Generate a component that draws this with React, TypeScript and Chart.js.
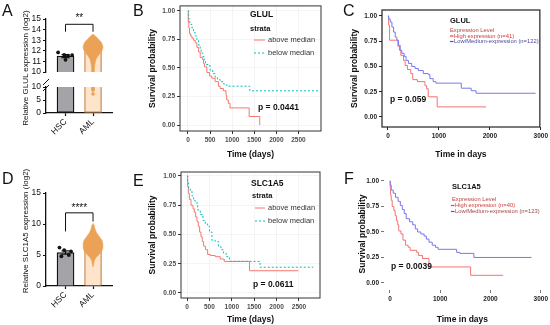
import React, { useEffect, useRef } from 'react';
import { Chart, registerables } from 'chart.js';

Chart.register(...registerables);

const FONT = "'Liberation Sans', Arial, Helvetica, sans-serif";

// ---------------- Panels A / D : bar + dots ----------------
const groups = ['HSC', 'AML'];
const groupPos = [0, 1];

// A: GLUL (broken axis)
const glulMeans = [11.5, 12.0];
const glulSem = [0.15, 0.04];
const glulHscValues = [11.85, 11.62, 11.55, 11.6, 11.15];
const glulHscJitter = [-0.27, -0.05, 0.09, 0.24, 0.0];
const glulAmlLevels = [13.55, 13.45, 13.3, 13.1, 12.9, 12.7, 12.5, 12.3, 12.1, 11.9, 11.7, 11.5, 11.3, 11.1, 10.9, 10.6, 10.3, 10.0];
const glulAmlHalfWidth = [0, 0.06, 0.12, 0.2, 0.27, 0.32, 0.35, 0.36, 0.34, 0.3, 0.24, 0.18, 0.13, 0.1, 0.08, 0.06, 0.05, 0.045];
const glulAmlOutliers = [9.7, 9.2, 8.8, 7.3];
const glulUpperTicks = [10, 11, 12, 13, 14, 15];
const glulLowerTicks = [0, 5, 10];
const glulBreak = 10;
const glulSig = { label: '**', bar: 14.5, legs: [13.8, 13.8], text: 15.1 };

// D: SLC1A5
const slcMeans = [5.4, 6.6];
const slcSem = [0.28, 0.05];
const slcHscValues = [6.2, 5.8, 5.6, 5.0, 4.8];
const slcHscJitter = [-0.22, -0.05, 0.2, 0.12, -0.15];
const slcAmlLevels = [10.1, 9.8, 9.4, 9.0, 8.6, 8.2, 7.8, 7.4, 7.0, 6.5, 6.0, 5.5, 5.1, 4.7, 4.3, 3.9, 3.4, 3.1];
const slcAmlHalfWidth = [0, 0.04, 0.06, 0.09, 0.13, 0.19, 0.26, 0.32, 0.35, 0.36, 0.35, 0.3, 0.22, 0.13, 0.07, 0.04, 0.02, 0];
const slcTicks = [0, 5, 10, 15];
const slcSig = { label: '****', bar: 11.8, legs: [8.8, 10.4], text: 12.6 };

// ---------------- Survival panels ----------------
const probTicks = [0, 0.25, 0.5, 0.75, 1];
const probLabels = ['0.00', '0.25', '0.50', '0.75', '1.00'];
const daysTicksGG = [0, 500, 1000, 1500, 2000, 2500];
const daysLabelsGG = ['0', '500', '1000', '1500', '2000', '2500'];
const daysTicksKM = [0, 1000, 2000, 3000];
const daysLabelsKM = ['0', '1000', '2000', '3000'];

// B: GLUL strata
const bAboveDays = [0, 8, 20, 35, 60, 90, 130, 165, 202, 240, 277, 337, 352, 374, 427, 487, 539, 614, 689, 726, 801, 861, 876, 913, 951, 1385, 1624];
const bAboveSurv = [1.0, 0.9, 0.85, 0.8, 0.78, 0.76, 0.74, 0.72, 0.68, 0.64, 0.59, 0.57, 0.54, 0.51, 0.46, 0.43, 0.41, 0.38, 0.34, 0.32, 0.3, 0.26, 0.22, 0.19, 0.15, 0.075, 0.0];
const bBelowDays = [0, 15, 37, 67, 90, 127, 165, 202, 240, 277, 299, 337, 367, 397, 464, 501, 561, 614, 666, 726, 801, 861, 891, 1400, 2970];
const bBelowSurv = [1.0, 0.93, 0.9, 0.88, 0.85, 0.81, 0.78, 0.74, 0.7, 0.66, 0.63, 0.6, 0.57, 0.53, 0.52, 0.48, 0.45, 0.42, 0.4, 0.38, 0.36, 0.35, 0.34, 0.3, 0.3];

// C: GLUL expression level
const cHighDays = [0, 13, 32, 194, 227, 253, 305, 337, 382, 447, 486, 577, 726, 758, 790, 966, 1925];
const cHighSurv = [1.0, 0.91, 0.76, 0.7, 0.66, 0.61, 0.56, 0.51, 0.47, 0.43, 0.37, 0.35, 0.31, 0.28, 0.2, 0.1, 0.1];
const cLowDays = [0, 13, 45, 78, 110, 143, 175, 207, 240, 272, 318, 356, 402, 467, 531, 596, 693, 790, 823, 888, 940, 1439, 1633, 1730, 2897];
const cLowSurv = [1.0, 0.97, 0.94, 0.89, 0.84, 0.79, 0.76, 0.71, 0.66, 0.63, 0.6, 0.56, 0.53, 0.5, 0.48, 0.46, 0.43, 0.42, 0.38, 0.35, 0.335, 0.285, 0.26, 0.235, 0.235];

// E: SLC1A5 strata
const eAboveDays = [0, 15, 30, 52, 89, 134, 163, 193, 223, 252, 282, 312, 341, 371, 415, 460, 519, 631, 742, 831, 1395, 2485];
const eAboveSurv = [1.0, 0.91, 0.85, 0.8, 0.75, 0.72, 0.69, 0.65, 0.61, 0.57, 0.52, 0.48, 0.44, 0.4, 0.37, 0.33, 0.32, 0.31, 0.29, 0.27, 0.19, 0.19];
const eBelowDays = [0, 15, 37, 74, 111, 148, 185, 237, 297, 356, 408, 460, 504, 556, 631, 705, 757, 816, 875, 950, 1632, 2819];
const eBelowSurv = [1.0, 0.94, 0.89, 0.87, 0.83, 0.79, 0.77, 0.71, 0.67, 0.62, 0.59, 0.57, 0.52, 0.45, 0.44, 0.4, 0.37, 0.34, 0.31, 0.27, 0.22, 0.22];

// F: SLC1A5 expression level
const fHighDays = [0, 5, 13, 26, 45, 78, 104, 129, 155, 175, 220, 259, 311, 362, 401, 531, 570, 647, 777, 1605, 2252];
const fHighSurv = [1.0, 0.93, 0.86, 0.81, 0.75, 0.71, 0.66, 0.61, 0.57, 0.51, 0.48, 0.42, 0.37, 0.35, 0.32, 0.3, 0.27, 0.24, 0.157, 0.075, 0.075];
const fLowDays = [0, 6, 26, 65, 110, 162, 207, 246, 285, 324, 388, 453, 505, 550, 615, 680, 725, 777, 841, 906, 958, 1327, 1392, 1670, 2816];
const fLowSurv = [1.0, 0.96, 0.91, 0.88, 0.84, 0.8, 0.76, 0.72, 0.68, 0.63, 0.6, 0.57, 0.53, 0.5, 0.48, 0.46, 0.43, 0.4, 0.37, 0.35, 0.33, 0.3, 0.29, 0.25, 0.25];

// ---------------- styles ----------------
const HSC_FILL = '#a4a4a8';
const HSC_EDGE = '#111111';
const AML_FILL = '#fde4cb';
const AML_EDGE = '#c98c55';
const AML_DOT = '#eba257';
const GG_RED = '#F8766D';
const GG_CYAN = '#00BFC4';
const KM_RED = '#f47272';
const KM_BLUE = '#7878f0';

type Box = { left: number; top: number; width: number; height: number };
type Area = { left: number; top: number; right: number; bottom: number };

function fit(box: Box, area: Area) {
  return {
    top: area.top - box.top,
    right: box.left + box.width - area.right,
    bottom: box.top + box.height - area.bottom,
    yWidth: area.left - box.left,
  };
}

function ChartCanvas({ box, config }: { box: Box; config: () => any }) {
  const ref = useRef<HTMLCanvasElement | null>(null);
  useEffect(() => {
    if (!ref.current) return;
    const chart = new Chart(ref.current, config());
    return () => chart.destroy();
  }, []);
  return (
    <canvas
      ref={ref}
      width={box.width}
      height={box.height}
      style={{ position: 'absolute', left: box.left, top: box.top, width: box.width, height: box.height }}
    />
  );
}

type BarOpts = {
  box: Box;
  area: Area;
  yMin: number;
  yMax: number;
  yTicks: number[];
  base: number;
  tops: number[];
  means: number[];
  sems: number[];
  errorBars: boolean;
  skip: any;
  hscValues?: number[];
  hscJitter?: number[];
  violin?: { levels: number[]; half: number[] };
  outliers?: number[];
  showX: boolean;
  sig?: { label: string; bar: number; legs: number[]; text: number };
  breakMarks?: boolean;
};

function barConfig(o: BarOpts) {
  const f = fit(o.box, o.area);
  const tickFont = { family: FONT, size: 8.5 };
  const datasets: any[] = [];
  if (o.hscValues && o.hscJitter) {
    const jit = o.hscJitter;
    datasets.push({
      type: 'scatter',
      data: o.hscValues.map((v, i) => ({ x: groupPos[0] + jit[i], y: v })),
      backgroundColor: '#111',
      borderWidth: 0,
      pointRadius: 1.9,
      order: 1,
    });
  }
  if (o.outliers) {
    datasets.push({
      type: 'scatter',
      data: o.outliers.map((v) => ({ x: groupPos[1], y: v })),
      backgroundColor: AML_DOT,
      borderWidth: 0,
      pointRadius: 1.8,
      order: 1,
    });
  }
  if (o.violin) {
    const { levels, half } = o.violin;
    const right = levels.map((l, i) => ({ x: groupPos[1] + half[i], y: l }));
    const left = levels.map((l, i) => ({ x: groupPos[1] - half[i], y: l })).reverse();
    datasets.push({
      type: 'line',
      data: [...right, ...left],
      fill: 'shape',
      backgroundColor: AML_DOT,
      borderColor: AML_DOT,
      borderWidth: 0.6,
      pointRadius: 0,
      tension: 0.3,
      order: 2,
    });
  }
  datasets.push({
    type: 'bar',
    data: groupPos.map((p, i) => ({ x: p, y: [o.base, o.tops[i]] })),
    backgroundColor: [HSC_FILL, AML_FILL],
    borderColor: [HSC_EDGE, AML_EDGE],
    borderWidth: 1.3,
    borderSkipped: o.skip,
    barThickness: 17,
    order: 3,
  });

  const extras = {
    id: 'barExtras',
    afterDatasetDraw(chart: any, args: any) {
      if (args.meta.type !== 'bar' || !o.errorBars) return;
      const { ctx, scales } = chart;
      const x = scales.x;
      const y = scales.y;
      ctx.save();
      ctx.strokeStyle = '#111';
      ctx.lineWidth = 1.2;
      groupPos.forEach((p, i) => {
        const px = x.getPixelForValue(p);
        const y1 = y.getPixelForValue(o.means[i] - o.sems[i]);
        const y2 = y.getPixelForValue(o.means[i] + o.sems[i]);
        ctx.beginPath();
        ctx.moveTo(px, y1);
        ctx.lineTo(px, y2);
        ctx.moveTo(px - 4, y1);
        ctx.lineTo(px + 4, y1);
        ctx.moveTo(px - 4, y2);
        ctx.lineTo(px + 4, y2);
        ctx.stroke();
      });
      ctx.restore();
    },
    afterDraw(chart: any) {
      const { ctx, scales, chartArea } = chart;
      const x = scales.x;
      const y = scales.y;
      ctx.save();
      if (o.sig) {
        const s = o.sig;
        const x0 = x.getPixelForValue(groupPos[0]);
        const x1 = x.getPixelForValue(groupPos[1]);
        const yb = y.getPixelForValue(s.bar);
        ctx.strokeStyle = '#111';
        ctx.lineWidth = 1;
        ctx.beginPath();
        ctx.moveTo(x0, y.getPixelForValue(s.legs[0]));
        ctx.lineTo(x0, yb);
        ctx.lineTo(x1, yb);
        ctx.lineTo(x1, y.getPixelForValue(s.legs[1]));
        ctx.stroke();
        ctx.fillStyle = '#111';
        ctx.font = `10px ${FONT}`;
        ctx.textAlign = 'center';
        ctx.textBaseline = 'middle';
        ctx.fillText(s.label, (x0 + x1) / 2, y.getPixelForValue(s.text));
      }
      if (o.breakMarks) {
        const lx = chartArea.left;
        const ty = chartArea.top;
        ctx.strokeStyle = '#111';
        ctx.lineWidth = 1;
        ctx.beginPath();
        ctx.moveTo(lx - 3, ty - 2);
        ctx.lineTo(lx + 3, ty - 8);
        ctx.moveTo(lx - 3, ty + 4);
        ctx.lineTo(lx + 3, ty - 2);
        ctx.stroke();
      }
      ctx.restore();
    },
  };

  const xMin = -0.71;
  const xMax = 1.69;

  return {
    type: 'bar',
    data: { datasets },
    options: {
      animation: false,
      responsive: false,
      events: [],
      layout: { padding: { left: 0, top: f.top, right: f.right, bottom: o.showX ? 0 : f.bottom } },
      plugins: { legend: { display: false }, tooltip: { enabled: false } },
      scales: {
        x: {
          type: 'linear',
          display: o.showX,
          min: xMin,
          max: xMax,
          offset: false,
          afterFit: (s: any) => {
            s.height = f.bottom;
          },
          afterBuildTicks: (s: any) => {
            s.ticks = groupPos.map((v) => ({ value: v }));
          },
          ticks: {
            font: tickFont,
            color: '#111',
            minRotation: 45,
            maxRotation: 45,
            autoSkip: false,
            padding: 1,
            callback: (v: number) => groups[groupPos.indexOf(v)],
          },
          grid: { offset: false, drawOnChartArea: false, tickLength: 3, tickColor: '#111', tickWidth: 1.2 },
          border: { display: true, color: '#111', width: 1.3 },
        },
        y: {
          type: 'linear',
          min: o.yMin,
          max: o.yMax,
          afterFit: (s: any) => {
            s.width = f.yWidth;
          },
          afterBuildTicks: (s: any) => {
            s.ticks = o.yTicks.map((v) => ({ value: v }));
          },
          ticks: { font: tickFont, color: '#111', padding: 2, autoSkip: false },
          grid: { drawOnChartArea: false, tickLength: 3, tickColor: '#111', tickWidth: 1.2 },
          border: { display: true, color: '#111', width: 1.3 },
        },
      },
    },
    plugins: [extras],
  };
}

type Txt = { x: number; y: number; s: string; font: string; color: string };
type Seg = { x1: number; x2: number; y: number; color: string; dash?: number[]; width?: number };
type Series = { days: number[]; surv: number[]; color: string; dash?: number[] };

type KmOpts = {
  box: Box;
  area: Area;
  xMin: number;
  xMax: number;
  yMin: number;
  yMax: number;
  xTicks: number[];
  xLabels: string[];
  series: Series[];
  tickColor: string;
  tickFontSize: number;
  xTitle: string;
  yTitlePad: number;
  xTitlePad: number;
  gridColor: string | null;
  frame: { color: string; width: number } | null;
  tickMarkColor: string;
  texts: Txt[];
  segs: Seg[];
};

function kmConfig(o: KmOpts) {
  const f = fit(o.box, o.area);
  const tickFont = { family: FONT, size: o.tickFontSize, weight: 'bold' };
  const titleFont = { family: FONT, size: 8.5, weight: 'bold' };
  const grid = o.gridColor
    ? { color: o.gridColor, lineWidth: 0.6, tickColor: o.tickMarkColor, tickLength: 3, tickWidth: 1 }
    : { drawOnChartArea: false, tickColor: o.tickMarkColor, tickLength: 3, tickWidth: 1 };

  const overlay = {
    id: 'overlay',
    afterDraw(chart: any) {
      const { ctx, chartArea } = chart;
      ctx.save();
      if (o.frame) {
        ctx.strokeStyle = o.frame.color;
        ctx.lineWidth = o.frame.width;
        ctx.strokeRect(chartArea.left, chartArea.top, chartArea.right - chartArea.left, chartArea.bottom - chartArea.top);
      }
      for (const s of o.segs) {
        ctx.strokeStyle = s.color;
        ctx.lineWidth = s.width || 1;
        ctx.setLineDash(s.dash || []);
        ctx.beginPath();
        ctx.moveTo(s.x1 - o.box.left, s.y - o.box.top);
        ctx.lineTo(s.x2 - o.box.left, s.y - o.box.top);
        ctx.stroke();
      }
      ctx.setLineDash([]);
      ctx.textAlign = 'left';
      ctx.textBaseline = 'middle';
      for (const t of o.texts) {
        ctx.font = t.font;
        ctx.fillStyle = t.color;
        ctx.fillText(t.s, t.x - o.box.left, t.y - o.box.top);
      }
      ctx.restore();
    },
  };

  return {
    type: 'line',
    data: {
      datasets: o.series.map((s) => ({
        data: s.days.map((d, i) => ({ x: d, y: s.surv[i] })),
        borderColor: s.color,
        borderWidth: 1,
        borderDash: s.dash || [],
        pointRadius: 0,
        stepped: 'before',
        fill: false,
      })),
    },
    options: {
      animation: false,
      responsive: false,
      events: [],
      layout: { padding: { left: 0, top: f.top, right: f.right, bottom: 0 } },
      plugins: { legend: { display: false }, tooltip: { enabled: false } },
      scales: {
        x: {
          type: 'linear',
          min: o.xMin,
          max: o.xMax,
          afterFit: (s: any) => {
            s.height = f.bottom;
          },
          afterBuildTicks: (s: any) => {
            s.ticks = o.xTicks.map((v) => ({ value: v }));
          },
          ticks: {
            font: tickFont,
            color: o.tickColor,
            maxRotation: 0,
            autoSkip: false,
            padding: 2,
            callback: (v: number) => o.xLabels[o.xTicks.indexOf(v)],
          },
          grid,
          border: { display: false },
          title: { display: true, text: o.xTitle, font: titleFont, color: '#111', padding: { top: o.xTitlePad, bottom: 0 } },
        },
        y: {
          type: 'linear',
          min: o.yMin,
          max: o.yMax,
          afterFit: (s: any) => {
            s.width = f.yWidth;
          },
          afterBuildTicks: (s: any) => {
            s.ticks = probTicks.map((v) => ({ value: v }));
          },
          ticks: {
            font: tickFont,
            color: o.tickColor,
            padding: 2,
            autoSkip: false,
            callback: (v: number) => probLabels[probTicks.indexOf(v)],
          },
          grid,
          border: { display: false },
          title: { display: true, text: 'Survival probability', font: titleFont, color: '#111', padding: { top: o.yTitlePad, bottom: 0 } },
        },
      },
    },
    plugins: [overlay],
  };
}

// ---------------- layout boxes ----------------
const boxAU: Box = { left: 15, top: 8, width: 105, height: 80 };
const areaAU: Area = { left: 46, top: 19, right: 112, bottom: 80 };
const boxAL: Box = { left: 15, top: 76, width: 105, height: 74 };
const areaAL: Area = { left: 46, top: 87, right: 112, bottom: 113 };
const boxD: Box = { left: 15, top: 180, width: 105, height: 145 };
const areaD: Area = { left: 46, top: 193, right: 112, bottom: 286 };
const boxB: Box = { left: 140, top: 0, width: 190, height: 160 };
const areaB: Area = { left: 180, top: 5, right: 321, bottom: 131 };
const boxC: Box = { left: 335, top: 0, width: 215, height: 160 };
const areaC: Area = { left: 382, top: 10, right: 541, bottom: 127 };
const boxE: Box = { left: 130, top: 165, width: 200, height: 160 };
const areaE: Area = { left: 181, top: 172, right: 320, bottom: 298 };
const boxF: Box = { left: 335, top: 165, width: 215, height: 160 };
const areaF: Area = { left: 384, top: 178, right: 543, bottom: 290 };

const bold = (s: number) => `bold ${s}px ${FONT}`;
const reg = (s: number) => `${s}px ${FONT}`;

const cfgAU = () =>
  barConfig({
    box: boxAU, area: areaAU, yMin: glulBreak, yMax: 15, yTicks: glulUpperTicks,
    base: glulBreak, tops: glulMeans, means: glulMeans, sems: glulSem, errorBars: true, skip: 'start',
    hscValues: glulHscValues, hscJitter: glulHscJitter,
    violin: { levels: glulAmlLevels, half: glulAmlHalfWidth },
    showX: false, sig: glulSig,
  });

const cfgAL = () =>
  barConfig({
    box: boxAL, area: areaAL, yMin: 0, yMax: glulBreak, yTicks: glulLowerTicks,
    base: 0, tops: [glulBreak, glulBreak], means: glulMeans, sems: glulSem, errorBars: false, skip: 'end',
    outliers: glulAmlOutliers, showX: true, breakMarks: true,
  });

const cfgD = () =>
  barConfig({
    box: boxD, area: areaD, yMin: 0, yMax: 15, yTicks: slcTicks,
    base: 0, tops: slcMeans, means: slcMeans, sems: slcSem, errorBars: true, skip: 'start',
    hscValues: slcHscValues, hscJitter: slcHscJitter,
    violin: { levels: slcAmlLevels, half: slcAmlHalfWidth },
    showX: true, sig: slcSig,
  });

const cfgB = () =>
  kmConfig({
    box: boxB, area: areaB, xMin: -180, xMax: 3010, yMin: -0.052, yMax: 1.043,
    xTicks: daysTicksGG, xLabels: daysLabelsGG,
    series: [
      { days: bBelowDays, surv: bBelowSurv, color: GG_CYAN, dash: [2, 2] },
      { days: bAboveDays, surv: bAboveSurv, color: GG_RED },
    ],
    tickColor: '#4d4d4d', tickFontSize: 6.5, xTitle: 'Time (days)', yTitlePad: 8, xTitlePad: 5,
    gridColor: '#ededed', frame: { color: '#333', width: 1 }, tickMarkColor: '#333',
    texts: [
      { x: 250, y: 15, s: 'GLUL', font: bold(8.5), color: '#111' },
      { x: 250, y: 29, s: 'strata', font: bold(7.5), color: '#111' },
      { x: 268, y: 40, s: 'above median', font: reg(7.5), color: '#333' },
      { x: 268, y: 53, s: 'below median', font: reg(7.5), color: '#333' },
      { x: 258, y: 108, s: 'p = 0.0441', font: bold(8.5), color: '#111' },
    ],
    segs: [
      { x1: 254, x2: 265, y: 40, color: GG_RED },
      { x1: 254, x2: 265, y: 53, color: GG_CYAN, dash: [2, 2] },
    ],
  });

const cfgC = () =>
  kmConfig({
    box: boxC, area: areaC, xMin: -117, xMax: 2981, yMin: -0.099, yMax: 1.059,
    xTicks: daysTicksKM, xLabels: daysLabelsKM,
    series: [
      { days: cLowDays, surv: cLowSurv, color: KM_BLUE },
      { days: cHighDays, surv: cHighSurv, color: KM_RED },
    ],
    tickColor: '#222', tickFontSize: 6.5, xTitle: 'Time in days', yTitlePad: 15, xTitlePad: 15,
    gridColor: null, frame: { color: '#222', width: 1.2 }, tickMarkColor: '#222',
    texts: [
      { x: 450, y: 21, s: 'GLUL', font: bold(7.5), color: '#111' },
      { x: 450, y: 30, s: 'Expression Level', font: reg(5.8), color: '#b8403a' },
      { x: 454, y: 36, s: 'High expression (n=41)', font: reg(5.8), color: '#d03a3a' },
      { x: 454, y: 41.5, s: 'Low/Medium-expression (n=122)', font: reg(5.8), color: '#4a4a9a' },
      { x: 390, y: 100, s: 'p = 0.059', font: bold(8.5), color: '#111' },
    ],
    segs: [
      { x1: 450, x2: 453.5, y: 36, color: '#ff3a3a', width: 1.2 },
      { x1: 450, x2: 453.5, y: 41.5, color: '#4a4aff', width: 1.2 },
    ],
  });

const cfgE = () =>
  kmConfig({
    box: boxE, area: areaE, xMin: -134, xMax: 2969, yMin: -0.043, yMax: 1.034,
    xTicks: daysTicksGG, xLabels: daysLabelsGG,
    series: [
      { days: eBelowDays, surv: eBelowSurv, color: GG_CYAN, dash: [2, 2] },
      { days: eAboveDays, surv: eAboveSurv, color: GG_RED },
    ],
    tickColor: '#4d4d4d', tickFontSize: 6.5, xTitle: 'Time (days)', yTitlePad: 18, xTitlePad: 3,
    gridColor: '#ededed', frame: { color: '#333', width: 1 }, tickMarkColor: '#333',
    texts: [
      { x: 251, y: 184, s: 'SLC1A5', font: bold(8.5), color: '#111' },
      { x: 252, y: 196, s: 'strata', font: bold(7.5), color: '#111' },
      { x: 268, y: 208, s: 'above median', font: reg(7.5), color: '#333' },
      { x: 268, y: 221, s: 'below median', font: reg(7.5), color: '#333' },
      { x: 253, y: 285, s: 'p = 0.0611', font: bold(8.5), color: '#111' },
    ],
    segs: [
      { x1: 255, x2: 265, y: 208, color: GG_RED },
      { x1: 255, x2: 265, y: 221, color: GG_CYAN, dash: [2, 2] },
    ],
  });

const cfgF = () =>
  kmConfig({
    box: boxF, area: areaF, xMin: -118, xMax: 3000, yMin: -0.069, yMax: 1.029,
    xTicks: daysTicksKM, xLabels: daysLabelsKM,
    series: [
      { days: fLowDays, surv: fLowSurv, color: KM_BLUE },
      { days: fHighDays, surv: fHighSurv, color: KM_RED },
    ],
    tickColor: '#222', tickFontSize: 6.5, xTitle: 'Time in days', yTitlePad: 23, xTitlePad: 15,
    gridColor: null, frame: null, tickMarkColor: '#777',
    texts: [
      { x: 452, y: 187, s: 'SLC1A5', font: bold(7.5), color: '#111' },
      { x: 452, y: 199.5, s: 'Expression Level', font: reg(5.8), color: '#b8403a' },
      { x: 455, y: 205.5, s: 'High expression (n=40)', font: reg(5.8), color: '#d03a3a' },
      { x: 455, y: 211.5, s: 'Low/Medium-expression (n=123)', font: reg(5.8), color: '#a04848' },
      { x: 391, y: 267, s: 'p = 0.0039', font: bold(8.5), color: '#111' },
    ],
    segs: [
      { x1: 451, x2: 454.5, y: 205.5, color: '#ff3a3a', width: 1.2 },
      { x1: 451, x2: 454.5, y: 211.5, color: '#4a4aff', width: 1.2 },
    ],
  });

const letterStyle = (left: number, top: number): React.CSSProperties => ({
  position: 'absolute',
  left,
  top,
  font: `16px ${FONT}`,
  lineHeight: '16px',
  color: '#111',
});

const vTitle = (cx: number, cy: number): React.CSSProperties => ({
  position: 'absolute',
  left: cx,
  top: cy,
  transform: 'translate(-50%, -50%) rotate(-90deg)',
  whiteSpace: 'nowrap',
  font: `8px ${FONT}`,
  lineHeight: '9px',
  color: '#111',
});

export default function App() {
  return (
    <div
      style={{
        position: 'absolute',
        left: 0,
        top: 0,
        width: 550,
        height: 325,
        background: '#fff',
        overflow: 'hidden',
      }}
    >
      <ChartCanvas box={boxAU} config={cfgAU} />
      <ChartCanvas box={boxAL} config={cfgAL} />
      <ChartCanvas box={boxD} config={cfgD} />
      <ChartCanvas box={boxB} config={cfgB} />
      <ChartCanvas box={boxC} config={cfgC} />
      <ChartCanvas box={boxE} config={cfgE} />
      <ChartCanvas box={boxF} config={cfgF} />
      <div style={vTitle(25, 68)}>Relative GLUL expression (log2)</div>
      <div style={vTitle(25, 231)}>Relative SLC1A5 expression (log2)</div>
      <div style={letterStyle(2, 3)}>A</div>
      <div style={letterStyle(133, 3)}>B</div>
      <div style={letterStyle(343, 3)}>C</div>
      <div style={letterStyle(2, 171)}>D</div>
      <div style={letterStyle(133, 173)}>E</div>
      <div style={letterStyle(344, 171)}>F</div>
    </div>
  );
}
